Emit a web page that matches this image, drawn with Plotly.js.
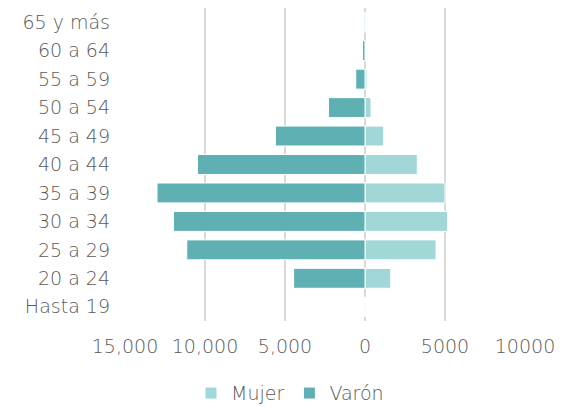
<!DOCTYPE html>
<html>
<head>
<meta charset="utf-8">
<script src="https://cdn.plot.ly/plotly-3.0.1.min.js"></script>
<style>html,body{margin:0;padding:0;background:#fff;}#chart{width:564px;height:407px;}</style>
</head>
<body>
<div id="chart"></div>
<script>
const categories = ["Hasta 19","20 a 24","25 a 29","30 a 34","35 a 39","40 a 44","45 a 49","50 a 54","55 a 59","60 a 64","65 y más"];
const varon = [0, 4460, 11140, 11970, 13000, 10470, 5600, 2280, 580, 160, 50];
const mujer = [0, 1610, 4440, 5160, 5000, 3270, 1170, 375, 125, 20, 30];
const tickVals = [-15000, -10000, -5000, 0, 5000, 10000];
const tickText = ["15,000", "10,000", "5,000", "0", "5000", "10000"];

const textColor = "#595959";
const font = {family: "'DejaVu Sans', sans-serif", size: 19, color: textColor, weight: 300};

const traces = [
  {
    type: "bar", orientation: "h", name: "Mujer",
    y: categories, x: mujer,
    marker: {color: "#a2d7d8", line: {color: "#ffffff", width: 1}},
    hoverinfo: "none"
  },
  {
    type: "bar", orientation: "h", name: "Varón",
    y: categories, x: varon.map(v => -v),
    marker: {color: "#5eb0b2", line: {color: "#ffffff", width: 1}},
    hoverinfo: "none"
  }
];

const layout = {
  width: 564, height: 407,
  margin: {l: 125, r: 39, t: 8, b: 86, autoexpand: false},
  paper_bgcolor: "#ffffff", plot_bgcolor: "#ffffff",
  font: font,
  barmode: "relative",
  bargap: 0.3,
  showlegend: true,
  legend: {orientation: "h", x: 0.165, xanchor: "left", y: -0.17, yanchor: "top",
           font: font, traceorder: "normal", itemwidth: 30, tracegroupgap: 0},
  xaxis: {
    range: [-15000, 10000],
    tickvals: tickVals, ticktext: tickText,
    showgrid: true, gridcolor: "#d9d9d9", gridwidth: 1.5,
    zeroline: false, showline: false, ticks: "",
    ticklabelstandoff: 12,
    tickfont: font, fixedrange: true
  },
  yaxis: {
    type: "category",
    categoryorder: "array", categoryarray: categories,
    showgrid: false, zeroline: false, showline: false, ticks: "",
    ticklabelstandoff: 14,
    tickfont: font, fixedrange: true
  }
};

Plotly.newPlot("chart", traces, layout, {displayModeBar: false, staticPlot: true});
</script>
</body>
</html>
